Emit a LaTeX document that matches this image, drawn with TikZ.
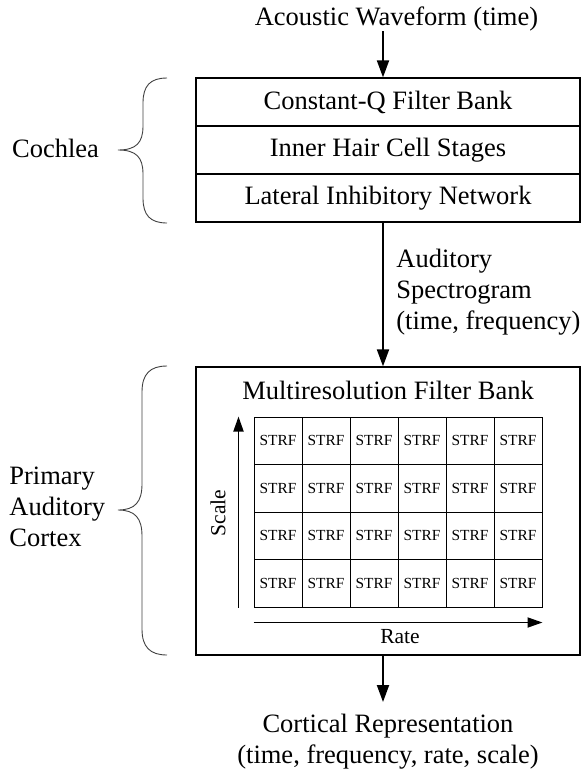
\documentclass[tikz,border=0pt]{standalone}
\usepackage{fontspec}
\setmainfont{Liberation Serif}
\usetikzlibrary{matrix,positioning,arrows.meta}

\tikzset{
  txt/.style={font=\fontsize{13.25}{15.5}\selectfont, inner sep=0pt},
  small/.style={font=\fontsize{10.75}{12}\selectfont, inner sep=0pt},
  stage/.style={draw, line width=0.65pt, minimum width=192pt, minimum height=24pt, anchor=center, font=\fontsize{13.25}{15.5}\selectfont},
  flow/.style={line width=1pt, -{Triangle[length=8.5pt,width=6pt]}},
  axisarrow/.style={line width=0.9pt, -{Triangle[length=7.5pt,width=5pt]}},
  earbrace/.style={line width=0.45pt, draw=black!75}
}

\begin{document}
\begin{tikzpicture}[x=0.5pt, y=-0.5pt]
    \useasboundingbox (0,0) rectangle (581,772);
    \coordinate (ax) at (383,0);

    % cochlea
    \node[txt, anchor=base] (wave) at (396.5,25) {Acoustic Waveform (time)};
    \node[stage] (cqfb) at (388,102) {Constant-Q Filter Bank};
    \node[stage, below=-0.65pt of cqfb] (ihc) {Inner Hair Cell Stages};
    \node[stage, below=-0.65pt of ihc] (lin) {Lateral Inhibitory Network};
    \node[txt, anchor=base] (cochlea) at (55.5,157) {Cochlea};
    \draw[earbrace] (167,78) .. controls (150,78) and (143,86) .. (143,103) -- (143,126)
        .. controls (143,143) and (136,150) .. (118,150)
        .. controls (136,150) and (143,157) .. (143,174) -- (143,198)
        .. controls (143,215) and (150,223) .. (167,223);

    \node[txt, align=left, anchor=north west] (spec) at (396,249) {Auditory\\Spectrogram\\(time, frequency)};

    % cortex
    \node[stage, minimum height=144pt] (cortex) at (388,511) {};
    \node[txt, anchor=base] (mfb) at (388,399) {Multiresolution Filter Bank};
    \matrix[matrix of nodes, line width=0.5pt, nodes={draw, minimum width=24pt, minimum height=23.75pt, anchor=center, inner sep=0pt, font=\fontsize{7.7}{9}\selectfont}, column sep=-\pgflinewidth, row sep=-\pgflinewidth] (m) at (398,512) {
        STRF & STRF & STRF & STRF & STRF & STRF \\
        STRF & STRF & STRF & STRF & STRF & STRF \\
        STRF & STRF & STRF & STRF & STRF & STRF \\
        STRF & STRF & STRF & STRF & STRF & STRF \\
    };
    \draw[axisarrow] ([xshift=-7.5pt]m-4-1.south west) -- ([xshift=-7.5pt]m-1-1.north west);
    \draw[axisarrow] ([yshift=-7.5pt]m-4-1.south west) -- ([yshift=-7.5pt]m-4-6.south east);
    \node[small, rotate=90] (scale) at (218,513) {Scale};
    \node[small, anchor=base] (rate) at (400,643) {Rate};

    \node[txt, align=left, anchor=west] (pac) at (9,507) {Primary\\Auditory\\Cortex};
    \draw[earbrace] (167,366) .. controls (150,366) and (142,374) .. (142,392) -- (142,484)
        .. controls (142,502) and (135,510) .. (118,510)
        .. controls (135,510) and (142,518) .. (142,536) -- (142,629)
        .. controls (142,647) and (150,655) .. (167,655);

    \node[txt, align=center, anchor=north] (cortical) at (388,714) {Cortical Representation\\(time, frequency, rate, scale)};

    % arrows
    \draw[flow] (wave.south -| ax) -- (ax |- cqfb.north);
    \draw[flow] (ax |- lin.south) -- (ax |- cortex.north);
    \draw[flow, shorten >=6pt] (ax |- cortex.south) -- (ax |- cortical.north);
\end{tikzpicture}
\end{document}
